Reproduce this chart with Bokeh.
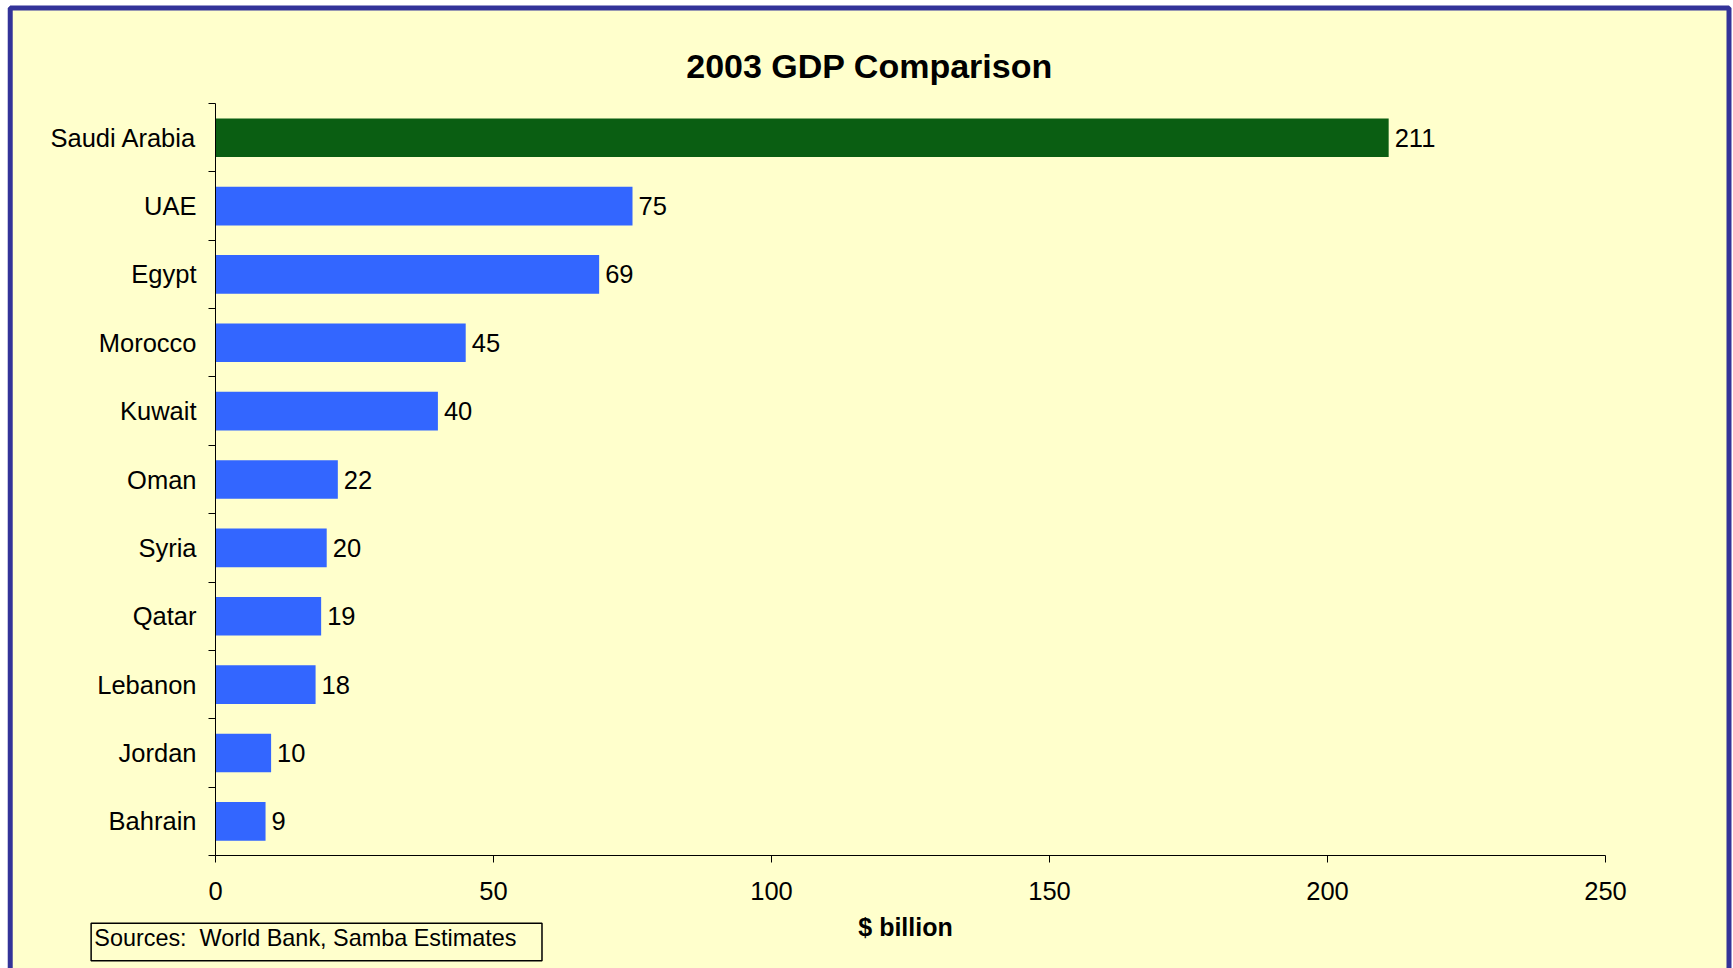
from bokeh.plotting import figure
from bokeh.models import Range1d, FixedTicker, Label, BoxAnnotation, ColumnDataSource, LinearAxis
from bokeh.core.properties import value
from bokeh.embed import file_html
from bokeh.resources import INLINE

# ---- data ----
countries = ["Saudi Arabia", "UAE", "Egypt", "Morocco", "Kuwait", "Oman",
             "Syria", "Qatar", "Lebanon", "Jordan", "Bahrain"]
gdp = [211, 75, 69, 45, 40, 22, 20, 19, 18, 10, 9]
x_ticks = [0, 50, 100, 150, 200, 250]
title_text = "2003 GDP Comparison"
x_label = "$ billion"
source_note = "Sources:  World Bank, Samba Estimates"

FONT = "Liberation Sans"
BLUE = "#3366FF"
GREEN = "#0A5E12"
BG = "#FFFFCC"
FRAME = "#333399"

n = len(countries)
pos = [n - 1 - i for i in range(n)]
colors = [GREEN] + [BLUE] * (n - 1)
src = ColumnDataSource(dict(pos=pos, gdp=gdp, color=colors,
                            label=[str(v) for v in gdp]))

# the frame covers the whole canvas; axes sit at fixed locations inside it
p = figure(width=1733, height=968, output_backend="svg", toolbar_location=None,
           x_range=Range1d(-38.67, 273.02), y_range=Range1d(-2.153, 12.007),
           x_axis_location=None, y_axis_location=None,
           min_border=0, min_border_left=0, min_border_right=0,
           min_border_top=0, min_border_bottom=0)
p.title.visible = False
p.grid.visible = False
p.outline_line_color = None
p.border_fill_color = "white"
p.background_fill_color = "white"

# outer frame
p.add_layout(BoxAnnotation(left=-36.92, right=272.21, top=11.897, bottom=-2.5,
                           fill_color=BG, fill_alpha=1, line_color=FRAME,
                           line_alpha=1, line_width=5, level="underlay"))

p.hbar(y="pos", right="gdp", left=0, height=0.565, fill_color="color",
       line_color=None, source=src)
p.text(x="gdp", y="pos", text="label", x_offset=6, text_baseline="middle",
       text_align="left", text_font=value(FONT), text_font_size="25.5px",
       text_color="black", source=src)

yaxis = LinearAxis(ticker=FixedTicker(ticks=pos, minor_ticks=[k - 0.5 for k in range(n + 1)]),
                   major_label_overrides={pp: c for pp, c in zip(pos, countries)},
                   fixed_location=0, bounds=(-0.5, n - 0.5),
                   major_tick_out=0, major_tick_in=0, minor_tick_out=7, minor_tick_in=0,
                   major_label_standoff=12, axis_line_color="black",
                   minor_tick_line_color="black",
                   major_label_text_font=FONT, major_label_text_font_size="25.5px",
                   major_label_text_color="black")
p.add_layout(yaxis, "left")

xaxis = LinearAxis(ticker=FixedTicker(ticks=x_ticks),
                   fixed_location=-0.5, bounds=(x_ticks[0], x_ticks[-1]),
                   major_tick_out=7, major_tick_in=0, minor_tick_out=0, minor_tick_in=0,
                   major_label_standoff=20, axis_line_color="black",
                   major_tick_line_color="black",
                   major_label_text_font=FONT, major_label_text_font_size="25.5px",
                   major_label_text_color="black")
p.add_layout(xaxis, "below")

p.add_layout(Label(x=117.63, y=11.056, text=title_text, text_align="center",
                   text_baseline="middle", text_font=FONT, text_font_size="34px",
                   text_font_style="bold", text_color="black"))
p.add_layout(Label(x=124.1, y=-1.553, text=x_label, text_align="center",
                   text_baseline="middle", text_font=FONT, text_font_size="25px",
                   text_font_style="bold", text_color="black"))

# source note box (keep the double space visible in SVG)
p.add_layout(BoxAnnotation(left=-22.37, right=58.72, top=-1.490, bottom=-2.040,
                           fill_alpha=0, line_color="black", line_alpha=1,
                           line_width=1.5))
p.add_layout(Label(x=-21.8, y=-1.70, text=source_note.replace("  ", "\u00a0 "),
                   text_align="left", text_baseline="middle", text_font=FONT,
                   text_font_size="23.4px", text_color="black"))

open("out.html", "w").write(file_html(p, INLINE))
